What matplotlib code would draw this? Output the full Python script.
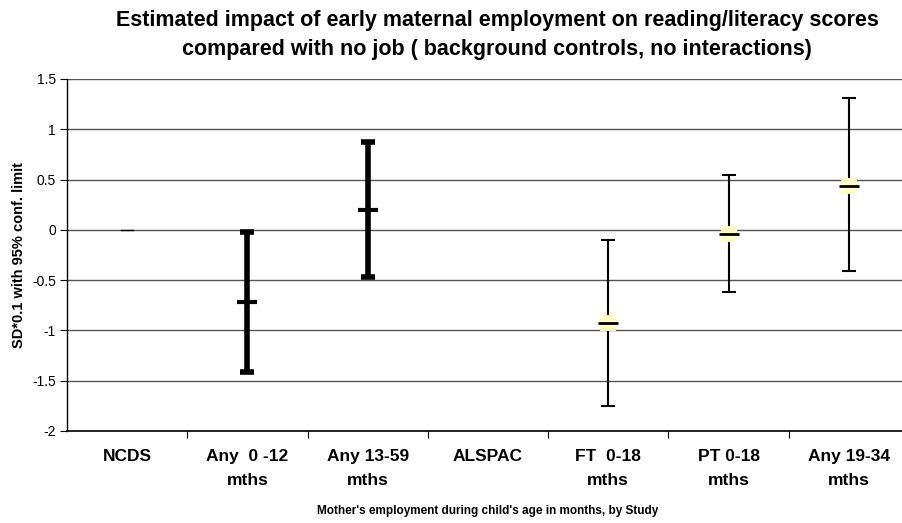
import numpy as np
import matplotlib.pyplot as plt

plt.rcParams['font.family'] = ['Liberation Sans', 'DejaVu Sans']

categorias = ['NCDS', 'Any  0 -12\nmths', 'Any 13-59\nmths', 'ALSPAC',
              'FT  0-18\nmths', 'PT 0-18\nmths', 'Any 19-34\nmths']

# estudio NCDS (barras gruesas)
ncds_x = [1, 2]
ncds_media = [-0.72, 0.20]
ncds_bajo = [-1.41, -0.47]
ncds_alto = [-0.02, 0.87]

# estudio ALSPAC (barras finas, marcador amarillo)
alspac_x = [4, 5, 6]
alspac_media = [-0.93, -0.04, 0.44]
alspac_bajo = [-1.75, -0.62, -0.41]
alspac_alto = [-0.10, 0.55, 1.31]

fig = plt.figure(figsize=(9.03, 5.23), dpi=100)
ax = fig.add_axes([67/903, 92/523, 842/903, 352/523])

ax.set_xlim(-0.5, 6.5)
ax.set_ylim(-2, 1.5)
ax.set_yticks(np.arange(-2, 1.51, 0.5))
ax.set_yticklabels(['-2', '-1.5', '-1', '-0.5', '0', '0.5', '1', '1.5'], fontsize=10)
ax.yaxis.grid(True, color='#555555', linewidth=1)
ax.set_axisbelow(True)

ax.set_xticks(range(len(categorias)))
ax.set_xticklabels(categorias, fontsize=12.5, fontweight='bold', linespacing=1.75)
ax.set_xticks(np.arange(0.5, 6.5, 1), minor=True)
ax.tick_params(axis='x', which='major', length=0, pad=13)
ax.tick_params(axis='x', which='minor', length=5, width=0.8)
ax.tick_params(axis='y', length=5, width=0.8, pad=3)

for s in ['top', 'right']:
    ax.spines[s].set_visible(False)
ax.spines['left'].set_linewidth(1)
ax.spines['bottom'].set_linewidth(1.2)

# marca en cero para NCDS
ax.plot([0 - 0.05, 0 + 0.05], [0, 0], color='black', linewidth=1)

med = np.array(ncds_media)
ax.errorbar(ncds_x, ncds_media,
            yerr=[med - np.array(ncds_bajo), np.array(ncds_alto) - med],
            fmt='none', ecolor='black', elinewidth=4, capsize=5, capthick=4)
ax.plot(ncds_x, ncds_media, linestyle='none', marker='_', markersize=15,
        markeredgewidth=3, color='black')

med = np.array(alspac_media)
ax.errorbar(alspac_x, alspac_media,
            yerr=[med - np.array(alspac_bajo), np.array(alspac_alto) - med],
            fmt='none', ecolor='black', elinewidth=1.5, capsize=5, capthick=1.5)
ax.plot(alspac_x, alspac_media, linestyle='none', marker='s', markersize=11,
        markeredgewidth=0, color='#FFFFC8', zorder=3)
ax.plot(alspac_x, alspac_media, linestyle='none', marker='_', markersize=14,
        markeredgewidth=2, color='black', zorder=4)

ax.set_ylabel('SD*0.1 with 95% conf. limit', fontsize=10.5, fontweight='bold')
ax.yaxis.set_label_coords(-0.049, 0.5)
ax.set_xlabel("Mother's employment during child's age in months, by Study",
              fontsize=8.5, fontweight='bold')
ax.xaxis.set_label_coords(0.5, -0.21)

fig.text(497/903, 1 - 35/523,
         'Estimated impact of early maternal employment on reading/literacy scores\n'
         'compared with no job ( background controls, no interactions)',
         ha='center', va='center', fontsize=15.5, fontweight='bold', linespacing=1.45)

fig.savefig('out.png', dpi=100)
